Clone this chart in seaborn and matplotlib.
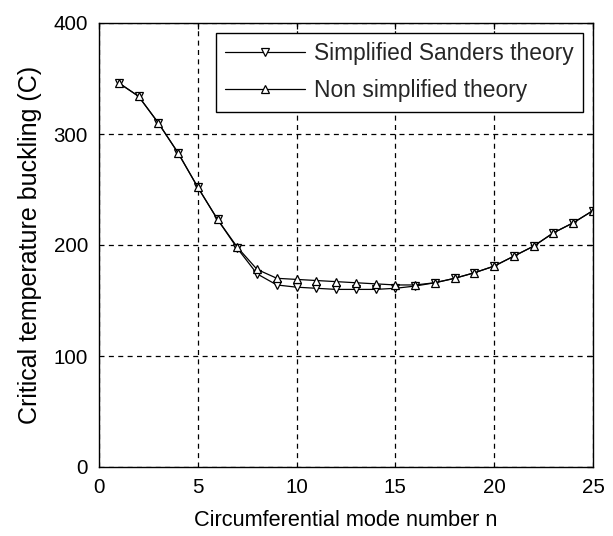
import numpy as np
import pandas as pd
import matplotlib
matplotlib.use("Agg")
import matplotlib.pyplot as plt
import seaborn as sns

n_modes = list(range(1, 26))
simplified = [346, 334, 310, 283, 252, 223, 197, 174, 164, 162, 161, 160, 160,
              160, 161, 163, 166, 170, 175, 181, 190, 199, 211, 220, 231]
non_simplified = [346, 334, 310, 283, 252, 223, 198, 178, 170, 169, 168, 167, 166,
                  165, 164, 164, 166, 170, 175, 181, 190, 199, 211, 220, 231]
labels = ["Simplified Sanders theory", "Non simplified theory"]
x_ticks = [0, 5, 10, 15, 20, 25]
y_ticks = [0, 100, 200, 300, 400]

df = pd.DataFrame({
    "n": n_modes * 2,
    "T": simplified + non_simplified,
    "theory": [labels[0]] * len(n_modes) + [labels[1]] * len(n_modes),
})

sns.set_theme(style="white")
plt.rcParams["font.family"] = ["Liberation Sans", "DejaVu Sans"]

fig = plt.figure(figsize=(6.13, 5.36), dpi=100)
ax = fig.add_axes([99 / 613, 1 - 467 / 536, 494 / 613, 444 / 536])

sns.lineplot(data=df, x="n", y="T", hue="theory", style="theory",
             markers={labels[0]: "v", labels[1]: "^"}, dashes=False,
             palette={labels[0]: "black", labels[1]: "black"},
             linewidth=0.9, markersize=6, markerfacecolor="white",
             markeredgecolor="black", markeredgewidth=0.9, ax=ax)

ax.set_xlim(0, 25)
ax.set_ylim(0, 400)
ax.set_xticks(x_ticks)
ax.set_yticks(y_ticks)
ax.tick_params(direction="in", top=True, right=True, length=4, width=0.9,
               labelsize=14.8, colors="black", pad=8)
ax.grid(True, color="black", linestyle=(0, (4, 3.5)), linewidth=0.9)
for s in ax.spines.values():
    s.set_color("black")
    s.set_linewidth(1.0)
ax.set_xlabel("Circumferential mode number n", fontsize=15.7, color="black", labelpad=9)
ax.set_ylabel("Critical temperature buckling (C)", fontsize=18, color="black", labelpad=8)

leg = ax.legend(loc="upper right", fontsize=16.4, frameon=True, fancybox=False,
                edgecolor="black", framealpha=1, borderaxespad=0.42,
                handlelength=3.5, handletextpad=0.4, borderpad=0.42, labelspacing=0.62)
leg.get_frame().set_linewidth(1.0)
leg.set_title(None)

fig.savefig("out.png", dpi=100, facecolor="white")
